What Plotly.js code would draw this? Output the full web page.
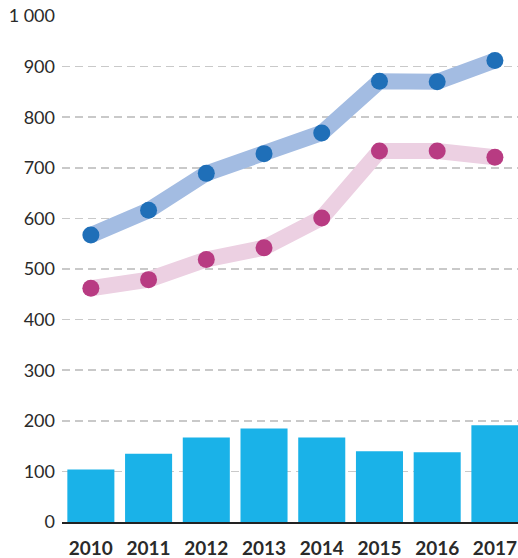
<!DOCTYPE html>
<html>
<head>
<meta charset="utf-8">
<script src="https://cdn.plot.ly/plotly-3.0.1.min.js"></script>
<style>html,body{margin:0;padding:0;background:#fff;}#chart{width:518px;height:558px;}</style>
</head>
<body>
<div id="chart"></div>
<script>
const years = ['2010','2011','2012','2013','2014','2015','2016','2017'];
const barValues = [104, 135, 167, 185, 167, 140, 138, 191];
const blueValues = [567, 616, 689, 728, 769, 871, 870, 912];
const pinkValues = [462, 479, 519, 542, 601, 733, 733, 721];
const yTickVals = [0,100,200,300,400,500,600,700,800,900,1000];
const yTickText = ['0','100','200','300','400','500','600','700','800','900','1 000'];

const traces = [
  {type:'bar', x: years, y: barValues, marker:{color:'#1ab2e8'}, hoverinfo:'skip'},
  {type:'scatter', mode:'lines+markers', x: years, y: blueValues,
   line:{color:'#a3bce2', width:16}, marker:{color:'#1f6fb8', size:17}},
  {type:'scatter', mode:'lines+markers', x: years, y: pinkValues,
   line:{color:'#ecd0e2', width:16}, marker:{color:'#b83b82', size:17}}
];

const layout = {
  width:518, height:558,
  margin:{l:62, r:0, t:16, b:36},
  showlegend:false,
  bargap:0.185,
  paper_bgcolor:'#fff', plot_bgcolor:'#fff',
  font:{family:'Lato, "Open Sans", sans-serif', color:'#2a2a2a'},
  xaxis:{type:'category', range:[-0.5, 7.4], showgrid:false, zeroline:false,
    showline:true, linecolor:'#222', linewidth:2, ticks:'',
    tickfont:{size:19, weight:'bold', color:'#2a2a2a'}, ticklabelstandoff:8},
  yaxis:{range:[0,1000], tickvals:yTickVals, ticktext:yTickText, showgrid:true,
    gridcolor:'#c9c9c9', gridwidth:1.5, griddash:'8px,5px', zeroline:false,
    showline:false, ticks:'', tickfont:{size:18, color:'#2a2a2a'}, ticklabelstandoff:6}
};
Plotly.newPlot('chart', traces, layout, {staticPlot:true});
</script>
</body>
</html>
